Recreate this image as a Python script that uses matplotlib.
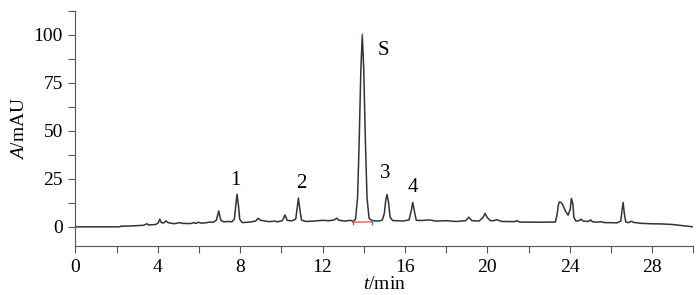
import matplotlib
matplotlib.use("Agg")
import matplotlib.pyplot as plt
from matplotlib.ticker import MultipleLocator

plt.rcParams["font.family"] = ["Liberation Serif", "DejaVu Serif"]
plt.rcParams["mathtext.fontset"] = "custom"
plt.rcParams["mathtext.rm"] = "Liberation Serif"
plt.rcParams["mathtext.it"] = "Liberation Serif:italic"

# chromatogram trace (t in min, A in mAU)
t = [0, 2.15, 2.2, 2.8, 3.3, 3.4, 3.47, 3.55, 3.9, 4.02, 4.1, 4.18, 4.28, 4.4, 4.5,
     4.8, 5.05, 5.2, 5.6, 5.75, 5.85, 6.0, 6.1, 6.4, 6.5, 6.7, 6.85, 6.96, 7.06,
     7.2, 7.45, 7.6, 7.72, 7.8, 7.85, 7.92, 7.98, 8.1, 8.5, 8.75, 8.87, 9.0, 9.4,
     9.7, 9.8, 10.05, 10.18, 10.28, 10.5, 10.7, 10.77, 10.83, 10.9, 10.98, 11.2,
     11.6, 12.0, 12.3, 12.55, 12.69, 12.8, 13.1, 13.35, 13.5, 13.6, 13.7, 13.78,
     13.86, 13.93, 14.0, 14.08, 14.16, 14.26, 14.4, 14.7, 14.9, 15.0, 15.07,
     15.13, 15.2, 15.28, 15.4, 15.9, 16.2, 16.3, 16.38, 16.46, 16.55, 16.8, 17.2,
     17.5, 18.0, 18.5, 18.95, 19.1, 19.25, 19.6, 19.8, 19.89, 20.0, 20.15, 20.3,
     20.46, 20.7, 21.3, 21.45, 21.55, 22.5, 23.3, 23.38, 23.45, 23.5, 23.6, 23.68,
     23.8, 23.92, 24.02, 24.08, 24.15, 24.2, 24.3, 24.45, 24.55, 24.65, 24.9,
     25.02, 25.1, 25.35, 25.5, 25.7, 26.3, 26.48, 26.53, 26.59, 26.65, 26.72,
     26.85, 27.0, 27.1, 27.5, 28.0, 28.5, 29.0, 29.5, 30.0]
A = [0, 0, 0.3, 0.5, 0.8, 1.2, 1.6, 1.0, 1.2, 2.0, 4.0, 2.2, 2.0, 3.1, 2.2,
     1.6, 2.2, 1.8, 1.7, 2.2, 1.8, 2.4, 1.9, 2.2, 2.5, 2.4, 3.5, 8.3, 3.5,
     2.6, 2.8, 2.6, 4.0, 12, 17, 11, 4, 2.2, 2.5, 3.0, 4.4, 3.4, 2.7,
     3.0, 2.6, 3.2, 6.2, 3.4, 3.1, 4.0, 10, 15, 9, 3.5, 2.8,
     3.0, 3.4, 3.2, 3.5, 4.5, 3.4, 3.0, 3.4, 2.8, 4, 15, 45,
     82, 100, 82, 45, 15, 4.5, 3.2, 3.0, 3.5, 7, 14,
     16.9, 13, 5, 3.3, 3.0, 3.6, 8, 12.7, 8, 3.4, 3.3, 3.6,
     3.0, 3.2, 2.8, 3.2, 5.0, 3.2, 3.0, 5.0, 7.0, 4.8, 3.2, 3.2,
     3.7, 2.8, 2.7, 3.2, 2.5, 2.4, 2.5, 6, 11.5, 13, 12.5, 11,
     8, 6.1, 9, 14.8, 12, 5, 3.0, 3.2, 4.0, 3.0, 2.8,
     3.6, 2.6, 2.4, 2.7, 2.2, 2.1, 3, 8, 12.7, 7, 2.5,
     2.2, 2.9, 2.3, 1.8, 1.6, 1.5, 1.2, 0.6, 0.0]

# peak labels
peak_names = ["1", "2", "S", "3", "4"]
peak_t = [7.75, 10.96, 14.95, 15.03, 16.39]
peak_A = [24, 22.5, 92, 28, 20.5]

# integration baseline of peak S
base_t = [13.46, 14.39]
base_A = [2.4, 2.6]
apex_t = 13.93
apex_A = 100

fig = plt.figure(figsize=(7, 2.95), dpi=100)
ax = fig.add_axes([0.1076, 0.166, 0.8829, 0.797])

ax.plot(t, A, color="#333333", lw=1.1)
ax.plot(base_t, base_A, color="#e8643c", lw=1.0)
ax.plot(base_t, base_A, ls="none", marker="|", ms=5, mew=1.0, color="#4a78d0")
ax.plot([apex_t], [apex_A], ls="none", marker="|", ms=3, mew=1.0, color="#4a78d0")

for name, x, y in zip(peak_names, peak_t, peak_A):
    ax.text(x, y, name, fontsize=15, ha="center", va="center")

ax.set_xlim(0, 30)
ax.set_ylim(-10, 112.5)
ax.xaxis.set_major_locator(MultipleLocator(4))
ax.xaxis.set_minor_locator(MultipleLocator(2))
ax.yaxis.set_major_locator(MultipleLocator(25))
ax.yaxis.set_minor_locator(MultipleLocator(12.5))
ax.tick_params(which="both", direction="out", color="#555555", width=0.8)
ax.tick_params(which="major", length=5, labelsize=14, pad=4)
ax.tick_params(which="minor", length=5)

for s in ["top", "right"]:
    ax.spines[s].set_visible(False)
for s in ["left", "bottom"]:
    ax.spines[s].set_color("#555555")
    ax.spines[s].set_linewidth(0.8)

ax.set_xlabel(r"$\mathit{t}$/min", fontsize=14, labelpad=0)
ax.set_ylabel(r"$\mathit{A}$/mAU", fontsize=14, labelpad=4)

fig.savefig("out.png", dpi=100)
